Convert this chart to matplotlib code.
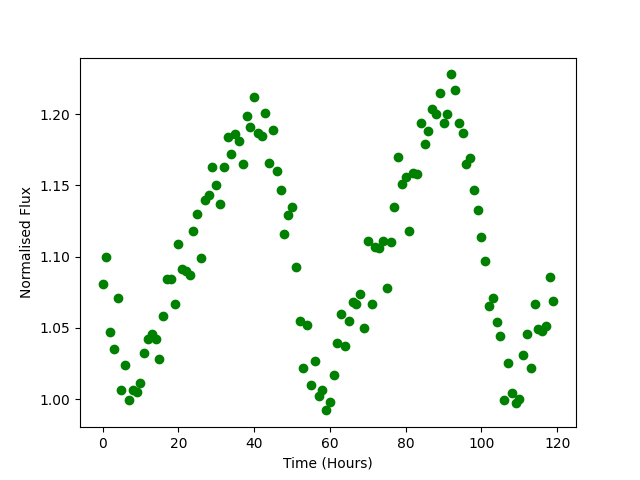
import numpy as np
import matplotlib
matplotlib.use("Agg")
import matplotlib.pyplot as plt

# hourly samples
time_hours = np.arange(120)

flux = [
    1.081, 1.100, 1.047, 1.035, 1.071, 1.006, 1.024, 0.999, 1.006, 1.005,
    1.011, 1.032, 1.042, 1.046, 1.042, 1.028, 1.058, 1.084, 1.084, 1.067,
    1.109, 1.091, 1.090, 1.087, 1.118, 1.130, 1.099, 1.140, 1.143, 1.163,
    1.150, 1.137, 1.163, 1.184, 1.172, 1.186, 1.181, 1.165, 1.199, 1.191,
    1.212, 1.187, 1.185, 1.201, 1.166, 1.189, 1.160, 1.147, 1.116, 1.129,
    1.135, 1.093, 1.055, 1.022, 1.052, 1.010, 1.027, 1.002, 1.006, 0.992,
    0.998, 1.017, 1.039, 1.060, 1.037, 1.055, 1.068, 1.067, 1.074, 1.050,
    1.111, 1.067, 1.107, 1.106, 1.111, 1.078, 1.110, 1.135, 1.170, 1.151,
    1.156, 1.118, 1.159, 1.158, 1.194, 1.179, 1.188, 1.204, 1.200, 1.215,
    1.194, 1.200, 1.228, 1.217, 1.194, 1.187, 1.165, 1.169, 1.147, 1.133,
    1.114, 1.097, 1.065, 1.071, 1.054, 1.044, 0.999, 1.025, 1.004, 0.997,
    1.000, 1.031, 1.046, 1.022, 1.067, 1.049, 1.048, 1.051, 1.086, 1.069,
]

fig, ax = plt.subplots(figsize=(6.4, 4.8), dpi=100)
ax.plot(time_hours, flux, "o", color="green")
ax.set_xlabel("Time (Hours)")
ax.set_ylabel("Normalised Flux")

fig.savefig("out.png")
